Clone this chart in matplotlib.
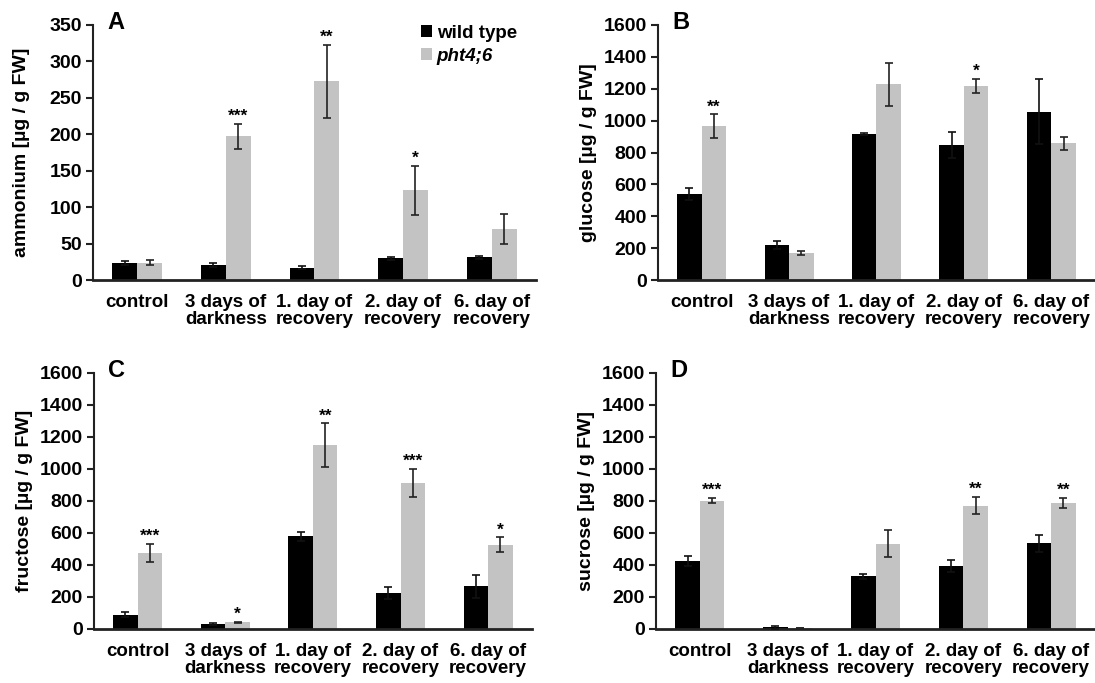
import matplotlib
matplotlib.use('Agg')
import matplotlib.pyplot as plt
from matplotlib.patches import Patch
import numpy as np

plt.rcParams['font.family'] = ['Liberation Sans', 'DejaVu Sans']
plt.rcParams['font.weight'] = 'bold'
plt.rcParams['axes.labelweight'] = 'bold'

categories = ['control', '3 days of\ndarkness', '1. day of\nrecovery',
              '2. day of\nrecovery', '6. day of\nrecovery']

# panel A - ammonium
ammonium_wt = [23, 21, 17, 30, 31]
ammonium_wt_err = [3, 3, 2, 2, 2]
ammonium_pht = [24, 197, 273, 123, 70]
ammonium_pht_err = [3, 17, 50, 34, 20]
ammonium_sig = ['', '***', '**', '*', '']

# panel B - glucose
glucose_wt = [542, 220, 916, 847, 1056]
glucose_wt_err = [37, 25, 4, 82, 203]
glucose_pht = [964, 172, 1228, 1218, 858]
glucose_pht_err = [75, 12, 135, 42, 40]
glucose_sig = ['**', '', '', '*', '']

# panel C - fructose
fructose_wt = [90, 31, 579, 225, 267]
fructose_wt_err = [14, 4, 29, 40, 73]
fructose_pht = [475, 42, 1150, 912, 527]
fructose_pht_err = [57, 4, 135, 88, 46]
fructose_sig = ['***', '*', '**', '***', '*']

# panel D - sucrose
sucrose_wt = [423, 10, 329, 394, 536]
sucrose_wt_err = [31, 8, 17, 35, 53]
sucrose_pht = [802, 6, 534, 771, 787]
sucrose_pht_err = [17, 2, 86, 54, 32]
sucrose_sig = ['***', '', '', '**', '**']

BLACK = '#000000'
GREY = '#c3c3c3'
W = 0.28

fig = plt.figure(figsize=(10.95, 6.83), dpi=100)

panels = [
    ('A', [0.0849, 0.5900, 0.4046, 0.3734], 'ammonium [µg / g FW]', 350, 50, 14,
     ammonium_wt, ammonium_wt_err, ammonium_pht, ammonium_pht_err, ammonium_sig),
    ('B', [0.6009, 0.5900, 0.3991, 0.3734], 'glucose [µg / g FW]', 1600, 200, 5,
     glucose_wt, glucose_wt_err, glucose_pht, glucose_pht_err, glucose_sig),
    ('C', [0.0858, 0.0791, 0.4000, 0.3748], 'fructose [µg / g FW]', 1600, 200, 5,
     fructose_wt, fructose_wt_err, fructose_pht, fructose_pht_err, fructose_sig),
    ('D', [0.5991, 0.0791, 0.4009, 0.3748], 'sucrose [µg / g FW]', 1600, 200, 5,
     sucrose_wt, sucrose_wt_err, sucrose_pht, sucrose_pht_err, sucrose_sig),
]

x = np.arange(len(categories))

for letter, rect, ylab, ymax, ystep, lpad, wt, wt_err, pht, pht_err, sig in panels:
    ax = fig.add_axes(rect)
    ax.bar(x - W / 2, wt, W, color=BLACK, zorder=2)
    ax.bar(x + W / 2, pht, W, color=GREY, zorder=2)
    ax.errorbar(x - W / 2, wt, yerr=wt_err, fmt='none', ecolor='#111111',
                elinewidth=1.2, capsize=3.2, capthick=1.2, zorder=3)
    ax.errorbar(x + W / 2, pht, yerr=pht_err, fmt='none', ecolor='#222222',
                elinewidth=1.2, capsize=3.2, capthick=1.2, zorder=3)

    for xi, v, e, s in zip(x, pht, pht_err, sig):
        if s:
            ax.annotate(s, (xi + W / 2, v + e), xytext=(0, 0),
                        textcoords='offset points', ha='center', va='bottom',
                        fontsize=12.5, fontweight='bold')

    ax.set_xlim(-0.5, len(categories) - 0.5)
    ax.set_ylim(0, ymax)
    ax.set_yticks(np.arange(0, ymax + 1, ystep))
    ax.set_xticks(x)
    ax.set_xticklabels(categories, fontsize=13.5, fontweight='bold', linespacing=1.0)
    ax.tick_params(axis='x', length=0, pad=10)
    ax.tick_params(axis='y', length=5, width=1.5, labelsize=14, pad=3, color='#222222')
    for lab in ax.get_yticklabels():
        lab.set_fontweight('bold')
    ax.set_ylabel(ylab, fontsize=14, fontweight='bold', labelpad=lpad)

    ax.spines['top'].set_visible(False)
    ax.spines['right'].set_visible(False)
    ax.spines['left'].set_linewidth(1.5)
    ax.spines['left'].set_color('#222222')
    ax.spines['bottom'].set_linewidth(2.0)
    ax.spines['bottom'].set_color('#222222')

    ax.text(0.033, 0.984, letter, transform=ax.transAxes, ha='left',
            va='baseline', fontsize=17, fontweight='bold')

    if letter == 'A':
        handles = [Patch(facecolor=BLACK, edgecolor='none'),
                   Patch(facecolor=GREY, edgecolor='none')]
        leg = ax.legend(handles, ['wild type', 'pht4;6'], loc='upper left',
                        bbox_to_anchor=(0.74, 1.0), frameon=False,
                        handlelength=0.6, handleheight=0.6, handletextpad=0.25,
                        borderpad=0, borderaxespad=0, labelspacing=0.3,
                        prop={'size': 13.5, 'weight': 'bold'})
        leg.get_texts()[1].set_fontstyle('italic')

fig.savefig('out.png', dpi=100)
